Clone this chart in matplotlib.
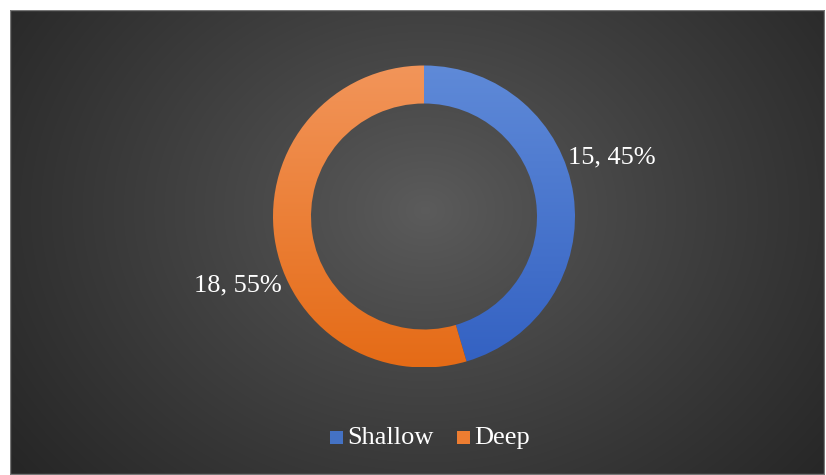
import numpy as np
import matplotlib.pyplot as plt
from matplotlib.patches import Wedge, Rectangle

# data
labels = ['Shallow', 'Deep']
values = [15, 18]
colors_top = ['#5f8ad8', '#f2955a']
colors_bot = ['#3361c2', '#e56b16']
legend_colors = ['#4472c4', '#ed7d31']

W, H = 826, 475
fig = plt.figure(figsize=(W / 100, H / 100), dpi=100)
fig.patch.set_facecolor('white')

# chart area with radial gradient background
bg = fig.add_axes([10 / W, 0, 815 / W, 465 / H])
bg.set_axis_off()
yy, xx = np.mgrid[0:465, 0:815]
cx, cy = 415, 200
d = np.sqrt(((xx - cx) / 520.0) ** 2 + ((yy - cy) / 420.0) ** 2)
d = np.clip(d, 0, 1)
lo, hi = 0.15, 0.36
g = hi - (hi - lo) * d ** 0.9
img = np.dstack([g, g, g])
bg.imshow(img, aspect='auto', extent=[0, 815, 465, 0])
bg.add_patch(Rectangle((0, 0), 814, 464, fill=False, edgecolor='#777777', lw=1))
bg.set_xlim(0, 815)
bg.set_ylim(465, 0)

# donut
ax = fig.add_axes([0, 0, 1, 1])
ax.set_xlim(0, W)
ax.set_ylim(H, 0)
ax.set_axis_off()
ax.patch.set_alpha(0)

cx, cy, r_out, r_in = 424, 216.5, 151, 113
total = sum(values)
ang = 90.0
grad = np.linspace(0, 1, 256).reshape(-1, 1)
for i, v in enumerate(values):
    sweep = 360.0 * v / total
    # y axis is flipped, so angles run clockwise on screen
    th1, th2 = -ang, -ang + sweep
    w = Wedge((cx, cy), r_out, th1, th2, width=r_out - r_in,
              facecolor='none', edgecolor='none')
    ax.add_patch(w)
    c1 = np.array(plt.matplotlib.colors.to_rgb(colors_top[i]))
    c2 = np.array(plt.matplotlib.colors.to_rgb(colors_bot[i]))
    gi = c1 + (c2 - c1) * grad[:, :, None]
    gi = np.repeat(gi, 2, axis=1)
    im = ax.imshow(gi, extent=[cx - r_out, cx + r_out, cy + r_out, cy - r_out],
                   aspect='auto', interpolation='bilinear', zorder=2)
    im.set_clip_path(w)
    ang -= sweep

font = 'Liberation Serif'
ax.text(612, 157, '15, 45%', color='white', fontsize=19, family=font,
        ha='center', va='center')
ax.text(238, 285, '18, 55%', color='white', fontsize=19, family=font,
        ha='center', va='center')

# legend
items = [(330, 'Shallow'), (457, 'Deep')]
for (x, name), c in zip(items, legend_colors):
    ax.add_patch(Rectangle((x, 431), 13, 13, facecolor=c, edgecolor='none'))
    ax.text(x + 17, 438, name, color='white', fontsize=19, family=font,
            ha='left', va='center')

fig.savefig('out.png', dpi=100, facecolor='white')
